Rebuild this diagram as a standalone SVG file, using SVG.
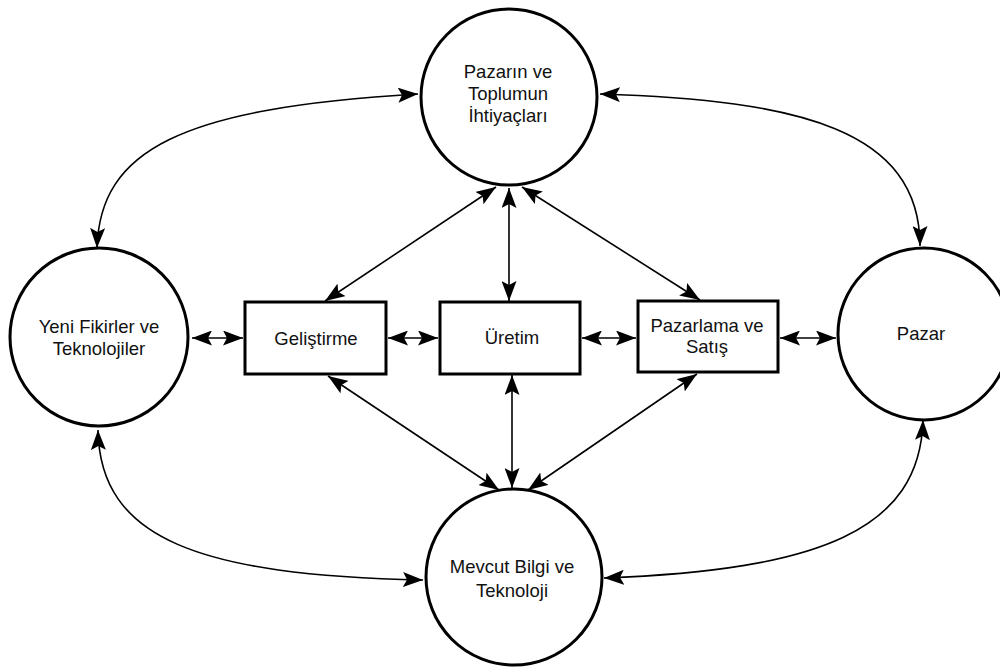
<svg xmlns="http://www.w3.org/2000/svg" width="1000" height="669" viewBox="0 0 1000 669">
<style>
.node{fill:#fff;stroke:#000;stroke-width:3}
.lbl{font-family:"Liberation Sans",Arial,sans-serif;font-size:18.5px;fill:#111;text-anchor:middle}
.con{fill:none;stroke:#000;stroke-width:1.6}
</style>
<defs>
<marker id="ah" viewBox="0 0 20 15" refX="20" refY="7.5" markerWidth="20" markerHeight="15" markerUnits="userSpaceOnUse" orient="auto-start-reverse">
<path d="M0,0 L20,7.5 L0,15 L4,7.5 z" fill="#000"/>
</marker>
</defs>
<rect width="1000" height="669" fill="#fff"/>
<g id="connectors">
<path class="con" d="M97,248 C100,150 180,108 418,94" marker-start="url(#ah)" marker-end="url(#ah)"/>
<path class="con" d="M600,94 C800,100 920,130 920,246" marker-start="url(#ah)" marker-end="url(#ah)"/>
<path class="con" d="M98,430 C100,540 200,575 423,580" marker-start="url(#ah)" marker-end="url(#ah)"/>
<path class="con" d="M923,420 C920,530 820,570 604,578" marker-start="url(#ah)" marker-end="url(#ah)"/>
<line class="con" x1="192" y1="338" x2="243" y2="338" marker-start="url(#ah)" marker-end="url(#ah)"/>
<line class="con" x1="388" y1="338" x2="438" y2="338" marker-start="url(#ah)" marker-end="url(#ah)"/>
<line class="con" x1="582" y1="338" x2="636" y2="338" marker-start="url(#ah)" marker-end="url(#ah)"/>
<line class="con" x1="780" y1="338" x2="836" y2="338" marker-start="url(#ah)" marker-end="url(#ah)"/>
<line class="con" x1="496" y1="187" x2="325" y2="301" marker-start="url(#ah)" marker-end="url(#ah)"/>
<line class="con" x1="509" y1="188" x2="509" y2="301" marker-start="url(#ah)" marker-end="url(#ah)"/>
<line class="con" x1="522" y1="187" x2="700" y2="300" marker-start="url(#ah)" marker-end="url(#ah)"/>
<line class="con" x1="328" y1="376" x2="499" y2="490" marker-start="url(#ah)" marker-end="url(#ah)"/>
<line class="con" x1="512" y1="375" x2="512" y2="488" marker-start="url(#ah)" marker-end="url(#ah)"/>
<line class="con" x1="697" y1="374" x2="528" y2="490" marker-start="url(#ah)" marker-end="url(#ah)"/>
</g>
<g id="n-pazarin-ihtiyaclari">
<circle class="node" cx="509" cy="97" r="88"/>
<text class="lbl" x="508" y="78">Pazarın ve</text>
<text class="lbl" x="508" y="100">Toplumun</text>
<text class="lbl" x="508" y="122">İhtiyaçları</text>
</g>
<g id="n-yeni-fikirler">
<circle class="node" cx="99" cy="337" r="89"/>
<text class="lbl" x="99" y="333">Yeni Fikirler ve</text>
<text class="lbl" x="99" y="355">Teknolojiler</text>
</g>
<g id="n-pazar">
<circle class="node" cx="924" cy="334" r="86"/>
<text class="lbl" x="921" y="340">Pazar</text>
</g>
<g id="n-mevcut-bilgi">
<circle class="node" cx="514" cy="577" r="88"/>
<text class="lbl" x="512" y="573">Mevcut Bilgi ve</text>
<text class="lbl" x="512" y="597">Teknoloji</text>
</g>
<g id="n-gelistirme">
<rect class="node" x="245" y="302" width="141" height="72"/>
<text class="lbl" x="316" y="345">Geliştirme</text>
</g>
<g id="n-uretim">
<rect class="node" x="440" y="302" width="140" height="72"/>
<text class="lbl" x="512" y="344">Üretim</text>
</g>
<g id="n-pazarlama">
<rect class="node" x="638" y="301" width="140" height="71"/>
<text class="lbl" x="707" y="332">Pazarlama ve</text>
<text class="lbl" x="707" y="353">Satış</text>
</g>
</svg>
